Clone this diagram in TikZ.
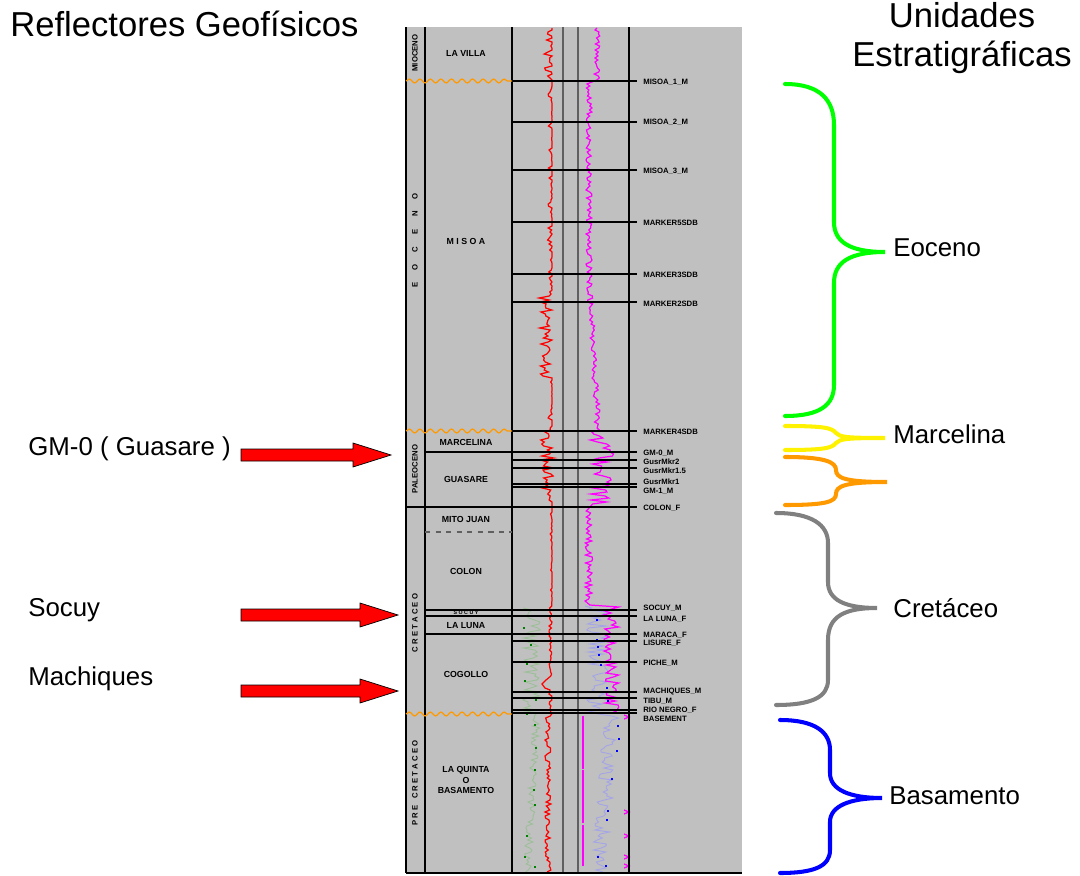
\documentclass[tikz,border=0pt]{standalone}
\usepackage{fontspec}
\setmainfont{Liberation Sans}
\usetikzlibrary{positioning,calc,decorations.pathmorphing}

\definecolor{panelgray}{HTML}{C0C0C0}
\definecolor{trackgray}{HTML}{606060}
\definecolor{unconforange}{HTML}{FF9900}
\definecolor{palegreen}{HTML}{9CBF98}
\definecolor{paleblue}{HTML}{A4A4E8}
\definecolor{dotgreen}{HTML}{008000}
\definecolor{logmagenta}{HTML}{FF00FF}
\definecolor{logred}{HTML}{FF0000}

\tikzstyle{horizon} = [draw=black,
                    line width=0.6pt]
\tikzstyle{track} = [draw=black,
                    line width=0.8pt]
\tikzstyle{unconf} = [draw=unconforange,
                    line width=0.7pt,
                    decorate,
                    decoration={snake, amplitude=1.1pt, segment length=6pt}]
\tikzstyle{marker} = [anchor=west,
                    inner sep=0pt,
                    font=\fontsize{4.4}{5}\selectfont\bfseries]
\tikzstyle{formation} = [inner sep=0pt,
                    align=center,
                    font=\fontsize{5}{6}\selectfont\bfseries]
\tikzstyle{era} = [rotate=90,
                    inner sep=0pt,
                    font=\fontsize{4.4}{5}\selectfont\bfseries]
\tikzstyle{unit} = [anchor=west,
                    inner sep=0pt,
                    font=\fontsize{14.7}{17}\selectfont]
\tikzstyle{bigtitle} = [inner sep=0pt,
                    align=center,
                    font=\fontsize{19.7}{22.7}\selectfont]
\tikzstyle{reflector} = [fill=red,
                    draw=black,
                    line width=0.4pt]
\tikzstyle{brace} = [line width=2.3pt,
                    line cap=round]

% block arrow from tail coordinate to tip coordinate
\newcommand{\reflarrow}[2]{%
  \filldraw[reflector] ($(#1)+(0,-6)$) -- ($(#2)+(-38,-6)$) -- ($(#2)+(-38,-12)$) -- (#2)
    -- ($(#2)+(-38,12)$) -- ($(#2)+(-38,6)$) -- ($(#1)+(0,6)$) -- cycle;}

\begin{document}
\begin{tikzpicture}[x=0.02cm, y=-0.02cm]
\useasboundingbox (0,0) rectangle (1080,876);
\pgfmathsetseed{11}

% log panel
\fill[panelgray] (405,27) rectangle (742,873);

% log curves
\draw[palegreen, line width=0.5pt] (523,608)
  \foreach \y in {610,612,...,714} { -- ({532+10*rand},\y) }
  \foreach \y in {716,718,...,872} { -- ({537-(\y-716)/157*10+4*rand},\y) };
\draw[paleblue, line width=0.5pt] (585,606)
  \foreach \y in {608,610,...,714} { -- ({598+12*rand},\y) }
  \foreach \y in {716,718,...,872} { -- ({611-(\y-716)/157*12+8*rand},\y) };
\draw[logred, line width=0.7pt] (552,28)
  \foreach \y in {30,32,...,80} { -- ({552-8*pow(rnd,3)},\y) }
  \foreach \y in {82,84,...,290} { -- ({552-5*pow(rnd,5)},\y) }
  \foreach \y in {292,294,...,376} { -- ({552-13*rnd},\y) }
  \foreach \y in {378,380,...,430} { -- ({552-4*pow(rnd,5)},\y) }
  \foreach \y in {432,434,...,500} { -- ({554-14*rnd},\y) }
  \foreach \y in {502,504,...,606} { -- ({552-2*pow(rnd,4)},\y) }
  \foreach \y in {608,610,...,676} { -- ({552-3*rnd},\y) }
  -- (546,680) -- (542,684) -- (545,688) -- (550,690)
  \foreach \y in {692,694,...,714} { -- ({552-3*rnd},\y) }
  \foreach \y in {716,718,...,872} { -- ({551-6*rnd},\y) };
\draw[logmagenta, line width=0.7pt] (597,28)
  \foreach \y in {30,32,...,80} { -- ({597+3*rand},\y) }
  \foreach \y in {82,84,...,280} { -- ({589+3*rand},\y) }
  \foreach \y in {282,284,...,430} { -- ({589+(\y-280)/150*9+3*rand},\y) }
  \foreach \y in {432,434,...,505} { -- ({602+12*rand},\y) }
  \foreach \y in {507,509,...,605} { -- ({589+4*rand},\y) }
  \foreach \y in {607,609,...,714} { -- ({611+8*rand},\y) };
\draw[logmagenta, line width=0.6pt, dash pattern=on 30pt off 1pt] (583,716) -- (583,866);
\foreach \y in {717,812,836,857,866}
  \draw[logmagenta, line width=0.7pt] (624,\y-2) -- (629,\y) -- (624,\y+2);
\foreach \p in {(524,628),(531,645),(527,664),(525,681),(536,700),(527,714),(535,725),
                (536,748),(535,770),(534,790),(535,805),(527,836),(525,857),(535,867)}
  \fill[dotgreen] \p ++(-0.8,-0.8) rectangle ++(1.6,1.6);
\foreach \p in {(597,620),(597,640),(598,647),(599,655),(601,665),(607,688),(608,701),
                (618,726),(619,739),(617,751),(612,779),(608,811),(607,820),(598,857),(606,866)}
  \fill[blue] \p ++(-0.8,-0.8) rectangle ++(1.6,1.6);

% track lines
\draw[track] (406,27) -- (406,873);
\draw[track] (425,27) -- (425,873);
\draw[track] (512,27) -- (512,873);
\draw[track, draw=trackgray] (563,27) -- (563,873);
\draw[track, draw=trackgray] (578,27) -- (578,873);
\draw[track] (629,27) -- (629,873);
\draw[track] (406,873) -- (742,873);

% markers
\foreach \yl/\xs/\yt/\name [count=\i] in {
    81/512/82/MISOA\_1\_M, 122/512/122/MISOA\_2\_M, 170/512/171/MISOA\_3\_M,
    222/512/223/MARKER5SDB, 274/512/275/MARKER3SDB, 302/512/304/MARKER2SDB,
    431/512/432/MARKER4SDB, 452/425/453/GM-0\_M, 460/512/462/GusrMkr2,
    468/512/471/GusrMkr1.5, 484/512/482/GusrMkr1, 487/512/491/GM-1\_M,
    507/406/508/COLON\_F, 610/425/608/SOCUY\_M, 616/425/619/LA LUNA\_F,
    634/425/635/MARACA\_F, 641/512/643/LISURE\_F, 662/512/663/PICHE\_M,
    692/512/692/MACHIQUES\_M, 698/512/701/TIBU\_M, 710/512/710/RIO NEGRO\_F,
    713/512/719/BASEMENT} {
  \draw[horizon] (\xs,\yl) -- (637,\yl);
  \node (mk\i) [marker] at (643,\yt) {\name};
}
\draw[horizon, dashed, draw=trackgray] (425,532) -- (512,532);

% unconformities
\draw[unconf] (406,81) -- (512,81);
\draw[unconf] (406,431) -- (512,431);
\draw[unconf] (406,714) -- (512,714);

% formations
\node (lavilla) [formation] at (466,53) {LA VILLA};
\node (misoa) [formation] at (466,241) {M I S O A};
\node (marcelina) [formation] at (466,442) {MARCELINA};
\node (guasare) [formation] at (466,479) {GUASARE};
\node (mitojuan) [formation] at (466,519) {MITO JUAN};
\node (colon) [formation] at (466,571) {COLON};
\node (socuy) [formation, font=\fontsize{3}{4}\selectfont\bfseries] at (466,613) {S O C U Y};
\node (laluna) [formation] at (466,626) {LA LUNA};
\node (cogollo) [formation] at (466,674) {COGOLLO};
\node (laquinta) [formation] at (466,780) {LA QUINTA\\O\\BASAMENTO};

% eras
\node (mioceno) [era] at (415,53) {MIOCENO};
\foreach \l [count=\i] in {E,O,C,E,N,O}
  \node (eoc\i) [era] at (415,285-17.8*\i+17.8) {\l};
\node (paleoceno) [era] at (415,469) {PALEOCENO};
\node (cretaceo) [era] at (415,623) {C R E T A C E O};
\node (precretaceo) [era] at (415,783) {P R E \ \ C R E T A C E O};

% titles
\node (reflectores) [bigtitle, anchor=west] at (10,24) {Reflectores Geofísicos};
\node (unidades) [bigtitle] at (962,38) {Unidades\\Estratigráficas};

% reflectors
\node (gm0) [unit] at (28,449) {GM-0 ( Guasare )};
\node (socuylbl) [unit] at (28,610) {Socuy};
\node (machiques) [unit] at (28,679) {Machiques};
\coordinate (gm0tail) at (241,455);
\coordinate (gm0tip) at (391,455);
\coordinate (socuytail) at (241,615);
\coordinate (socuytip) at (398,615);
\coordinate (machtail) at (241,691);
\coordinate (machtip) at (398,691);
\reflarrow{gm0tail}{gm0tip}
\reflarrow{socuytail}{socuytip}
\reflarrow{machtail}{machtip}

% units
\draw[brace, draw=green] (785,84) .. controls (820,84) and (834,100) .. (834,125) -- (834,222)
  .. controls (834,242) and (850,252) .. (885,252) .. controls (850,252) and (834,262) .. (834,283)
  -- (834,385) .. controls (834,405) and (820,416) .. (785,416);
\draw[brace, draw=yellow] (785,426) .. controls (825,426) and (832,428) .. (836,433)
  .. controls (840,437) and (845,438) .. (885,438) .. controls (845,438) and (840,439) .. (836,443)
  .. controls (832,448) and (825,450) .. (785,450);
\draw[brace, draw=unconforange] (785,457) .. controls (825,457) and (836,462) .. (836,470)
  .. controls (836,478) and (845,482) .. (887,482) .. controls (845,482) and (836,486) .. (836,494)
  .. controls (836,502) and (825,505) .. (785,505);
\draw[brace, draw=gray] (776,513) .. controls (812,513) and (828,525) .. (828,543) -- (828,582)
  .. controls (828,600) and (845,608) .. (877,608) .. controls (845,608) and (828,616) .. (828,640)
  -- (828,680) .. controls (828,697) and (812,705) .. (776,705);
\draw[brace, draw=blue] (780,720) .. controls (815,720) and (830,732) .. (830,750) -- (830,773)
  .. controls (830,790) and (850,798) .. (882,798) .. controls (850,798) and (830,806) .. (830,822)
  -- (830,850) .. controls (830,866) and (815,873) .. (780,873);
\node (eoceno) [unit] at (893,248) {Eoceno};
\node (marcelinalbl) [unit] at (893,434) {Marcelina};
\node (cretaceolbl) [unit] at (893,608) {Cretáceo};
\node (basamento) [unit] at (889,796) {Basamento};
\end{tikzpicture}
\end{document}
